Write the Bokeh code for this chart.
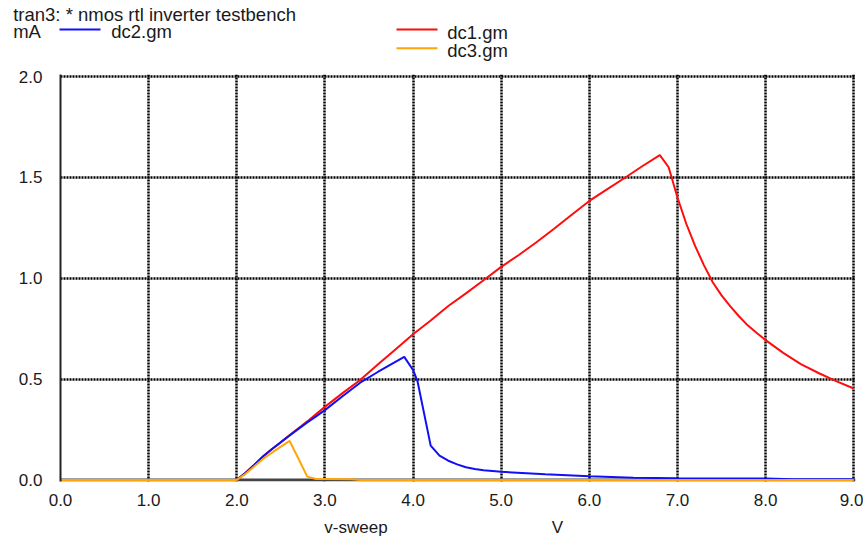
from bokeh.plotting import figure
from bokeh.layouts import column
from bokeh.models import Span, FixedTicker, PrintfTickFormatter, Range1d
from bokeh.core.properties import value
from bokeh.embed import file_html
from bokeh.resources import INLINE

# ---- data ----
title_text = "tran3: * nmos rtl inverter testbench"
unit_y = "mA"
x_label = "v-sweep"
unit_x = "V"
series_names = ["dc1.gm", "dc2.gm", "dc3.gm"]

v1 = [0.0, 2.0, 2.1, 2.2, 2.3, 2.4, 2.5, 2.6, 2.7, 2.8, 2.9, 3.0, 3.2, 3.4, 3.6, 3.8,
      4.0, 4.2, 4.4, 4.6, 4.8, 5.0, 5.2, 5.4, 5.6, 5.8, 6.0, 6.2, 6.4, 6.6, 6.8, 6.9,
      7.0, 7.1, 7.2, 7.3, 7.4, 7.5, 7.6, 7.7, 7.8, 7.9, 8.0, 8.2, 8.4, 8.6, 8.8, 9.0]
dc1 = [0.0, 0.0, 0.035, 0.075, 0.117, 0.153, 0.187, 0.222, 0.256, 0.29, 0.326, 0.362,
       0.43, 0.495, 0.572, 0.647, 0.722, 0.79, 0.862, 0.925, 0.99, 1.056, 1.115, 1.178,
       1.245, 1.315, 1.383, 1.44, 1.497, 1.555, 1.61, 1.55, 1.40, 1.27, 1.16, 1.065,
       0.98, 0.915, 0.86, 0.81, 0.765, 0.728, 0.693, 0.63, 0.574, 0.53, 0.49, 0.453]

v2 = [0.0, 2.0, 2.1, 2.2, 2.3, 2.4, 2.5, 2.6, 2.7, 2.8, 2.9, 3.0, 3.2, 3.4, 3.6, 3.7,
      3.8, 3.9, 4.0, 4.05, 4.2, 4.3, 4.4, 4.5, 4.6, 4.7, 4.8, 5.0, 5.5, 6.0, 6.5, 7.0,
      7.5, 8.0, 8.3, 9.0]
dc2 = [0.0, 0.0, 0.035, 0.075, 0.117, 0.153, 0.187, 0.22, 0.253, 0.285, 0.315, 0.346,
       0.415, 0.482, 0.535, 0.56, 0.585, 0.61, 0.545, 0.49, 0.17, 0.12, 0.095, 0.077,
       0.063, 0.054, 0.048, 0.04, 0.028, 0.018, 0.011, 0.008, 0.007, 0.007, 0.003, 0.003]

v3 = [0.0, 2.0, 2.1, 2.2, 2.3, 2.4, 2.5, 2.6, 2.7, 2.8, 2.9, 3.0, 3.3, 3.4, 9.0]
dc3 = [0.0, 0.0, 0.03, 0.068, 0.105, 0.135, 0.165, 0.193, 0.105, 0.016, 0.004, 0.004,
       0.003, 0.0, 0.0]

x_ticks = [0, 1, 2, 3, 4, 5, 6, 7, 8, 9]
y_ticks = [0.0, 0.5, 1.0, 1.5, 2.0]

RED = "#ff0d0d"
BLUE = "#1010f5"
ORANGE = "#ffa50a"
FONT = "Liberation Sans"
TXT = "#1a1a1a"
W = 863


def blank(height):
    f = figure(width=W, height=height, output_backend="svg", toolbar_location=None,
               x_range=Range1d(0, W), y_range=Range1d(height, 0),
               x_axis_location=None, y_axis_location=None,
               min_border=0, min_border_left=0, min_border_right=0,
               min_border_top=0, min_border_bottom=0, frame_align=False)
    f.title.visible = False
    f.outline_line_color = None
    f.xgrid.visible = False
    f.ygrid.visible = False
    return f


# ---- header: title, unit and legend ----
head = blank(62)
head.text(x=[12.7, 12.7, 110.7, 446.7, 446.7], y=[14.2, 30.8, 30.8, 31.5, 50.2],
          text=[title_text, unit_y, series_names[1], series_names[0], series_names[2]],
          text_font=value(FONT), text_font_size=value("18.5px"), text_color=TXT,
          text_baseline="alphabetic", text_align="left")
head.segment(x0=[59, 396, 396], x1=[100, 437, 437], y0=[29, 29, 47.7], y1=[29, 29, 47.7],
             line_color=[BLUE, RED, ORANGE], line_width=2)

# ---- main plot ----
p = figure(width=W, height=448, output_backend="svg", toolbar_location=None,
           x_range=Range1d(0, 9.02), y_range=Range1d(-0.008, 2.01),
           min_border_left=60, min_border_right=8, min_border_top=12,
           min_border_bottom=29, frame_align=False)
p.title.visible = False
p.outline_line_color = None

p.xaxis.ticker = FixedTicker(ticks=x_ticks)
p.yaxis.ticker = FixedTicker(ticks=y_ticks)
p.xaxis.formatter = PrintfTickFormatter(format="%.1f")
p.yaxis.formatter = PrintfTickFormatter(format="%.1f")
for ax in (p.xaxis, p.yaxis):
    ax.major_tick_line_color = None
    ax.minor_tick_line_color = None
    ax.major_label_text_font = FONT
    ax.major_label_text_font_size = "17px"
    ax.major_label_text_color = TXT
p.xaxis.axis_line_color = None
p.xaxis.major_label_standoff = 6
p.yaxis.axis_line_color = "#222222"
p.yaxis.axis_line_width = 2
p.yaxis.major_label_standoff = 12

p.xgrid.ticker = FixedTicker(ticks=x_ticks[1:])
p.ygrid.ticker = FixedTicker(ticks=y_ticks[1:])
for g in (p.xgrid, p.ygrid):
    g.grid_line_color = "black"
    g.grid_line_width = 2.5
    g.grid_line_dash = "2 1"

p.add_layout(Span(location=0, dimension="width", line_color="#444444",
                  line_width=3, level="underlay"))

p.line(v1, dc1, line_color=RED, line_width=2)
p.line(v2, dc2, line_color=BLUE, line_width=2)
p.line(v3, dc3, line_color=ORANGE, line_width=2)

# ---- footer: x axis name and unit ----
foot = blank(29)
foot.text(x=[355.5, 557.0], y=[17.0, 17.0], text=[x_label, unit_x],
          text_font=value(FONT), text_font_size=value("17px"), text_color=TXT,
          text_baseline="middle", text_align="center")

layout = column(head, p, foot, spacing=0)
open("out.html", "w").write(file_html(layout, INLINE))
